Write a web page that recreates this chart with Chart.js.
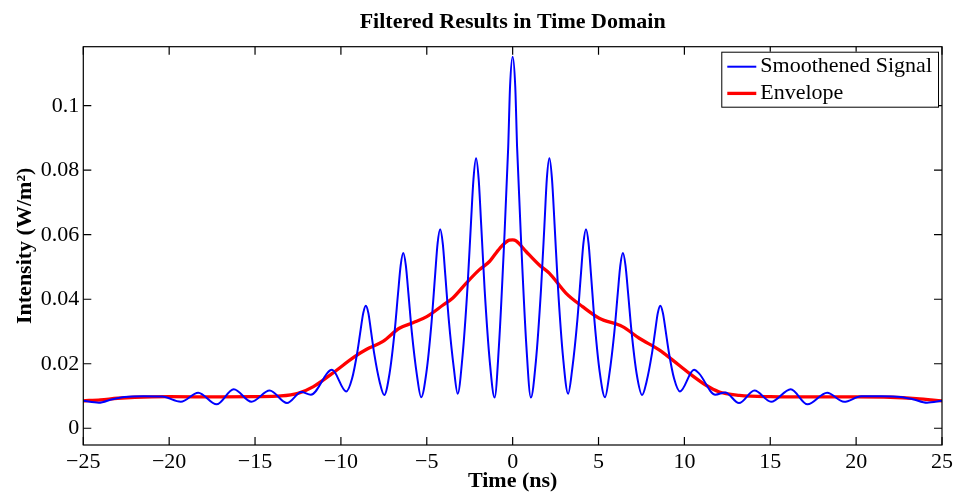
<!DOCTYPE html>
<html>
<head>
<meta charset="utf-8">
<script src="https://cdn.jsdelivr.net/npm/chart.js@4/dist/chart.umd.min.js"></script>
<style>
html,body{margin:0;padding:0;background:#fff;}
#wrap{width:957px;height:493px;}
</style>
</head>
<body>
<div id="wrap"><canvas id="c" width="957" height="493"></canvas></div>
<script>
// ---- data ----
const chartTitle = 'Filtered Results in Time Domain';
const xAxisTitle = 'Time (ns)';
const yAxisTitle = 'Intensity (W/m²)';
const seriesNames = ['Smoothened Signal', 'Envelope'];
const xTickValues = [-25, -20, -15, -10, -5, 0, 5, 10, 15, 20, 25];
const yTickValues = [0, 0.02, 0.04, 0.06, 0.08, 0.1];
const yTickLabels = ['0', '0.02', '0.04', '0.06', '0.08', '0.1'];

const signalTime = [
  -25, -24.1, -23.3, -22.6, -21.5, -20.4, -19.32, -18.31, -17.24, -16.24, -15.21, -14.15, -13.14, -12.3, -11.75, -10.52, -9.69,
  -9.35, -9.05, -8.85, -8.7, -8.55, -8.4, -8.25, -8.05, -7.75, -7.48,
  -7.17, -6.87, -6.67, -6.52, -6.37, -6.22, -6.07, -5.87, -5.57, -5.33,
  -5.02, -4.72, -4.52, -4.37, -4.22, -4.07, -3.92, -3.72, -3.42, -3.2,
  -2.93, -2.63, -2.43, -2.28, -2.13, -1.98, -1.83, -1.63, -1.33, -1.05,
  -0.8, -0.5, -0.26, -0.15, 0, 0.15, 0.26, 0.5, 0.8, 1.06,
  1.35, 1.65, 1.85, 1.99, 2.14, 2.29, 2.44, 2.64, 2.94, 3.23,
  3.47, 3.77, 3.97, 4.12, 4.27, 4.42, 4.57, 4.77, 5.07, 5.38,
  5.62, 5.92, 6.12, 6.27, 6.42, 6.57, 6.72, 6.92, 7.22, 7.54,
  7.8, 8.1, 8.3, 8.45, 8.6, 8.75, 8.9, 9.1, 9.4, 9.74,
  10.56, 10.85, 11.8, 12.38, 13.18, 14.08, 15.05, 16.19, 17.17, 18.31, 19.3, 20.3, 21.5, 22.6, 23.3, 24.13, 25
];
const signalValue = [
  0.0085, 0.0079, 0.0090, 0.0097, 0.0099, 0.0098, 0.0082, 0.0110, 0.0074, 0.0121, 0.0082, 0.0117, 0.0078, 0.0112, 0.0104, 0.0181, 0.0114,
  0.0154, 0.0234, 0.0306, 0.0357, 0.0380, 0.0357, 0.0302, 0.0228, 0.0145, 0.0103,
  0.0169, 0.0301, 0.0420, 0.0505, 0.0543, 0.0505, 0.0418, 0.0297, 0.0163, 0.0096,
  0.0174, 0.0330, 0.0471, 0.0573, 0.0617, 0.0573, 0.0474, 0.0337, 0.0184, 0.0107,
  0.0217, 0.0436, 0.0633, 0.0773, 0.0837, 0.0773, 0.0629, 0.0429, 0.0206, 0.0095,
  0.0254, 0.0571, 0.0870, 0.1061, 0.1152, 0.1061, 0.0870, 0.0571, 0.0254, 0.0095,
  0.0206, 0.0429, 0.0629, 0.0773, 0.0837, 0.0773, 0.0633, 0.0436, 0.0217, 0.0107,
  0.0184, 0.0337, 0.0474, 0.0573, 0.0617, 0.0573, 0.0471, 0.0330, 0.0174, 0.0096,
  0.0163, 0.0297, 0.0418, 0.0505, 0.0543, 0.0505, 0.0420, 0.0301, 0.0169, 0.0103,
  0.0145, 0.0228, 0.0302, 0.0357, 0.0380, 0.0357, 0.0306, 0.0234, 0.0154, 0.0114,
  0.0181, 0.0170, 0.0104, 0.0111, 0.0078, 0.0117, 0.0082, 0.0121, 0.0074, 0.0110, 0.0082, 0.0099, 0.0099, 0.0097, 0.0090, 0.0079, 0.0085
];

const envelopeTime = [
  -25, -24, -23, -22, -20, -17, -15, -13.5, -12.5, -11.6, -10.5, -9.2, -8.5, -7.55, -6.6, -5.8, -5.0, -4.05, -3.5, -2.7, -1.95, -1.35, -0.75, -0.2,
  0, 0.2, 0.78, 1.55, 2.13, 3.1, 4.07, 5.04, 6.4, 7.37, 8.53, 9.3, 10.27, 11.24, 12.0, 13.2, 15, 18, 20, 22, 23.5, 25
];
const envelopeValue = [
  0.0085, 0.0088, 0.0093, 0.0096, 0.0098, 0.0097, 0.0098, 0.0100, 0.0108, 0.0129, 0.0170, 0.0222, 0.0245, 0.0269, 0.0310, 0.0327, 0.0346, 0.0382, 0.0403, 0.0450, 0.0491, 0.0517, 0.0558, 0.0583,
  0.0584, 0.0581, 0.0548, 0.0506, 0.0481, 0.0419, 0.0377, 0.0341, 0.0315, 0.0279, 0.0243, 0.0212, 0.0171, 0.0134, 0.0113, 0.0102, 0.0098, 0.0097, 0.0097, 0.0096, 0.0092, 0.0085
];

// ---- chart ----
const FONT = "'Liberation Serif', 'Times New Roman', serif";
const toPoints = (xs, ys) => xs.map((x, i) => ({x: x, y: ys[i]}));

const framePlugin = {
  id: 'frame',
  afterDraw(chart) {
    const {ctx, chartArea: a, scales: {x, y}} = chart;
    ctx.save();
    // title centred over the axes
    ctx.fillStyle = '#000';
    ctx.font = 'bold 22px ' + FONT;
    ctx.textAlign = 'center';
    ctx.textBaseline = 'middle';
    ctx.fillText(chartTitle, (a.left + a.right) / 2, 22.5);

    ctx.strokeStyle = '#000';
    ctx.lineWidth = 1.2;
    ctx.strokeRect(a.left, a.top, a.right - a.left, a.bottom - a.top);
    const L = 8;
    ctx.beginPath();
    x.ticks.forEach(t => {
      const px = x.getPixelForValue(t.value);
      ctx.moveTo(px, a.bottom); ctx.lineTo(px, a.bottom - L);
      ctx.moveTo(px, a.top); ctx.lineTo(px, a.top + L);
    });
    y.ticks.forEach(t => {
      const py = y.getPixelForValue(t.value);
      ctx.moveTo(a.left, py); ctx.lineTo(a.left + L, py);
      ctx.moveTo(a.right, py); ctx.lineTo(a.right - L, py);
    });
    ctx.stroke();

    // legend box
    ctx.font = '22px ' + FONT;
    const ds = chart.data.datasets;
    let tw = 0;
    ds.forEach(d => { tw = Math.max(tw, ctx.measureText(d.label).width); });
    const w = 39 + tw + 6, h = 55;
    const bx = a.right - 4 - w, by = a.top + 5;
    ctx.fillStyle = '#fff';
    ctx.fillRect(bx, by, w, h);
    ctx.lineWidth = 1;
    ctx.strokeStyle = '#000';
    ctx.strokeRect(bx + 0.5, by + 0.5, w, h);
    ds.forEach((d, i) => {
      const cy = by + 15 + i * 26.7;
      ctx.beginPath();
      ctx.strokeStyle = d.borderColor;
      ctx.lineWidth = d.borderWidth;
      ctx.moveTo(bx + 6, cy); ctx.lineTo(bx + 35, cy);
      ctx.stroke();
      ctx.fillStyle = '#000';
      ctx.textBaseline = 'middle';
      ctx.textAlign = 'left';
      ctx.fillText(d.label, bx + 39, cy);
    });
    ctx.restore();
  }
};

new Chart(document.getElementById('c'), {
  type: 'line',
  data: {
    datasets: [
      {label: seriesNames[0], data: toPoints(signalTime, signalValue), borderColor: '#0000ff', borderWidth: 2, pointRadius: 0, cubicInterpolationMode: 'monotone', fill: false},
      {label: seriesNames[1], data: toPoints(envelopeTime, envelopeValue), borderColor: '#ff0000', borderWidth: 3.3, pointRadius: 0, cubicInterpolationMode: 'monotone', fill: false}
    ]
  },
  options: {
    responsive: false,
    animation: false,
    devicePixelRatio: 1,
    layout: {padding: {left: 0, right: 13.7, top: 46.7, bottom: 0}},
    plugins: {
      legend: {display: false},
      tooltip: {enabled: false},
      title: {display: false}
    },
    scales: {
      x: {
        type: 'linear', min: -25, max: 25,
        afterBuildTicks: s => { s.ticks = xTickValues.map(v => ({value: v})); },
        afterFit: s => { s.height = 48; },
        grid: {display: false, drawTicks: false},
        border: {display: false},
        ticks: {
          color: '#000', font: {family: FONT, size: 22}, padding: 4, maxRotation: 0, autoSkip: false,
          callback: v => String(v).replace('-', '\u2212')
        },
        title: {display: true, text: xAxisTitle, color: '#000', font: {family: FONT, size: 22, weight: 'bold', lineHeight: 1.0}, padding: {top: 0, bottom: 1}}
      },
      y: {
        type: 'linear', min: -0.0052, max: 0.1183,
        afterBuildTicks: s => { s.ticks = yTickValues.map(v => ({value: v})); },
        afterFit: s => { s.width = 83.3; },
        grid: {display: false, drawTicks: false},
        border: {display: false},
        ticks: {
          color: '#000', font: {family: FONT, size: 22}, padding: 4, autoSkip: false,
          callback: (v) => yTickLabels[yTickValues.indexOf(v)] ?? ''
        },
        title: {display: true, text: yAxisTitle, color: '#000', font: {family: FONT, size: 22, weight: 'bold', lineHeight: 1.0}, padding: {top: 14, bottom: 0}}
      }
    }
  },
  plugins: [framePlugin]
});
</script>
</body>
</html>
